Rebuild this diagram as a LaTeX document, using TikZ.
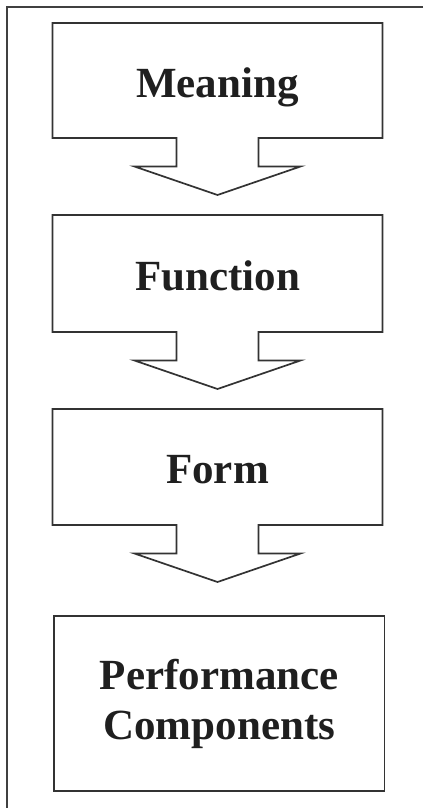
\documentclass[tikz,border=0pt]{standalone}
\usepackage{fontspec}
\setmainfont{Liberation Serif}
\usetikzlibrary{calc}
\tikzset{
  x=1pt, y=-1pt,
  outline/.style={draw=black!80, line width=1.7pt, line join=miter},
  framestyle/.style={draw=black!75, line width=1.5pt},
  boxnode/.style={inner sep=0pt, outer sep=0pt, minimum width=330pt, text=black!88,
    font=\fontsize{43}{50}\selectfont\bfseries, align=center},
  oneline/.style={text height=33pt, text depth=0pt},
}
\newcommand{\arrowoutline}[1]{%
  \draw[outline] (#1.north west) -- (#1.north east) -- (#1.south east)
    -- ($(#1.south)+(41,0)$) -- ($(#1.south)+(41,28.5)$) -- ($(#1.south)+(83,28.5)$)
    -- ($(#1.south)+(0,57)$) -- ($(#1.south)+(-83,28.5)$) -- ($(#1.south)+(-41,28.5)$)
    -- ($(#1.south)+(-41,0)$) -- (#1.south west) -- cycle;}
\begin{document}
\begin{tikzpicture}
  \useasboundingbox (0,0) rectangle (423,808);
  \fill[white] (0,0) rectangle (423,808);
  % frame
  \coordinate (ftr) at (423,7);
  \coordinate (ftl) at (7,7);
  \coordinate (fbl) at (7,808);
  \draw[framestyle] (ftr) -- (ftl) -- (fbl);
  % boxes
  \node[boxnode, oneline, minimum height=115pt] (meaning) at (217.5,80.5) {Meaning};
  \node[boxnode, oneline, minimum height=117pt] (function) at (217.5,273.5) {Function};
  \node[boxnode, oneline, minimum height=116pt] (form) at (217.5,467) {Form};
  \node[boxnode, minimum width=330.5pt, minimum height=175pt] (perf) at (219.25,703.5) {Performance\\Components};
  \arrowoutline{meaning}
  \arrowoutline{function}
  \arrowoutline{form}
  \draw[outline] (perf.north west) rectangle (perf.south east);
\end{tikzpicture}
\end{document}
